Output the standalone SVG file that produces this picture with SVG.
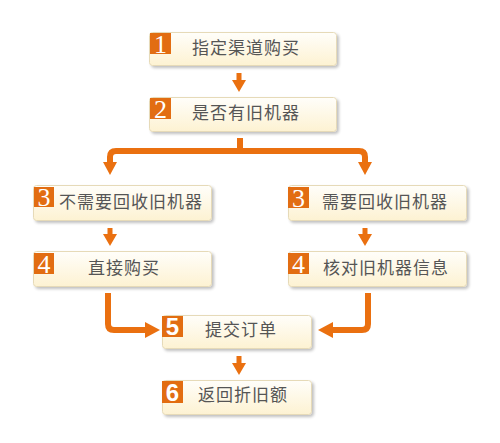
<svg xmlns="http://www.w3.org/2000/svg" width="500" height="443" viewBox="0 0 500 443">
<defs>
<linearGradient id="bg" x1="0" y1="0" x2="0" y2="1">
<stop offset="0" stop-color="#fffefa"/>
<stop offset="1" stop-color="#fdf2d2"/>
</linearGradient>
<filter id="sh" x="-10%" y="-20%" width="120%" height="150%">
<feGaussianBlur in="SourceAlpha" stdDeviation="1.5"/>
<feOffset dx="1.5" dy="2" result="b"/>
<feComponentTransfer><feFuncA type="linear" slope="0.25"/></feComponentTransfer>
<feMerge><feMergeNode/><feMergeNode in="SourceGraphic"/></feMerge>
</filter>
</defs>
<style>
.box{fill:url(#bg);stroke:#e6dab8;stroke-width:1;filter:url(#sh)}
.badge{fill:#e26d12}
.num{fill:#fff;font-family:"Liberation Serif",serif;font-size:26px;text-anchor:middle}
.nums{fill:#fff;font-family:"Liberation Sans",sans-serif;font-size:24px;font-weight:bold;text-anchor:middle}
.lbl{fill:#555;font-family:"Noto Sans CJK SC","Noto Sans CJK JP",sans-serif;font-size:17px;text-anchor:middle;letter-spacing:1px}
.ln{fill:none;stroke:#ea7010;stroke-width:6}
.ah{fill:#ea7010}
</style>
<rect width="500" height="443" fill="#fff"/>
<g id="connectors">
<rect class="ah" x="236.5" y="73" width="5" height="8"/>
<polygon class="ah" points="232,80 246,80 239,92"/>
<path class="ln" d="M240,138 V151 H116 Q110,151 110,157 V164"/>
<path class="ln" d="M240,151 H359 Q365,151 365,157 V164"/>
<rect class="ah" x="237.5" y="138" width="5" height="12"/>
<polygon class="ah" points="103,162 117,162 110,175"/>
<polygon class="ah" points="358,162 372,162 365,175"/>
<rect class="ah" x="107.5" y="228" width="5" height="7"/>
<polygon class="ah" points="103,234 117,234 110,246"/>
<rect class="ah" x="362.5" y="228" width="5" height="7"/>
<polygon class="ah" points="358,234 372,234 365,246"/>
<path class="ln" d="M108,293 V324 Q108,330 114,330 H147"/>
<polygon class="ah" points="145,322 160,330 145,338"/>
<path class="ln" d="M368,293 V324 Q368,330 362,330 H331"/>
<polygon class="ah" points="333,322 318,330 333,338"/>
<rect class="ah" x="236.5" y="356" width="5" height="8"/>
<polygon class="ah" points="232,363 246,363 239,375"/>
</g>
<g id="n1">
<rect class="box" x="149.5" y="32.5" width="187" height="33" rx="3"/>
<rect class="badge" x="150" y="33" width="21" height="21"/>
<text class="num" x="160.5" y="52.5">1</text>
<text class="lbl" x="246" y="54">指定渠道购买</text>
</g>
<g id="n2">
<rect class="box" x="149.5" y="97.5" width="187" height="34" rx="3"/>
<rect class="badge" x="150" y="98" width="21" height="21"/>
<text class="num" x="160.5" y="117.5">2</text>
<text class="lbl" x="246" y="119">是否有旧机器</text>
</g>
<g id="n3a">
<rect class="box" x="33.5" y="185.5" width="178" height="35" rx="3"/>
<rect class="badge" x="34" y="187" width="20" height="20"/>
<text class="num" x="44" y="206">3</text>
<text class="lbl" x="131" y="208">不需要回收旧机器</text>
</g>
<g id="n4a">
<rect class="box" x="33.5" y="251.5" width="178" height="35" rx="3"/>
<rect class="badge" x="34" y="253" width="20" height="21"/>
<text class="num" x="44" y="272.5">4</text>
<text class="lbl" x="124" y="274">直接购买</text>
</g>
<g id="n3b">
<rect class="box" x="288.5" y="185.5" width="178" height="35" rx="3"/>
<rect class="badge" x="288" y="187" width="21" height="21"/>
<text class="num" x="298.5" y="206.5">3</text>
<text class="lbl" x="385" y="208">需要回收旧机器</text>
</g>
<g id="n4b">
<rect class="box" x="288.5" y="251.5" width="178" height="35" rx="3"/>
<rect class="badge" x="288" y="253" width="21" height="21"/>
<text class="num" x="298.5" y="272.5">4</text>
<text class="lbl" x="386" y="274">核对旧机器信息</text>
</g>
<g id="n5">
<rect class="box" x="162.5" y="315.5" width="149" height="33" rx="3"/>
<rect class="badge" x="162" y="316" width="21" height="21"/>
<text class="nums" x="172.5" y="335">5</text>
<text class="lbl" x="241" y="336">提交订单</text>
</g>
<g id="n6">
<rect class="box" x="162.5" y="380.5" width="149" height="34" rx="3"/>
<rect class="badge" x="162" y="381" width="21" height="22"/>
<text class="nums" x="172.5" y="401">6</text>
<text class="lbl" x="243" y="401">返回折旧额</text>
</g>
</svg>
